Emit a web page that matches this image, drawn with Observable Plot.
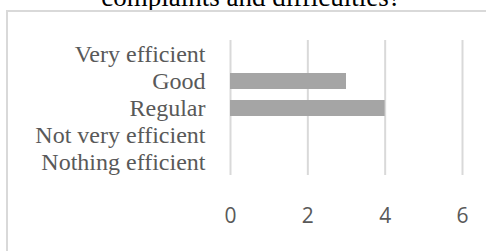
<!DOCTYPE html>
<html>
<head>
<meta charset="utf-8">
<script src="https://cdn.jsdelivr.net/npm/d3@7"></script>
<script src="https://cdn.jsdelivr.net/npm/@observablehq/plot@0.6"></script>
<style>
  html, body { margin: 0; padding: 0; background: #fff; overflow: hidden; }
  #page { position: relative; width: 486px; height: 251px; overflow: hidden; background: #fff; }
  #title { position: absolute; left: 8px; top: -16px; width: 486px; text-align: center;
    font-family: "Liberation Serif", "Times New Roman", serif; font-size: 27px; line-height: 27px; color: #000; white-space: nowrap; }
  #frame { position: absolute; left: 6px; top: 10px; width: 520px; height: 300px; border: 2px solid #d9d9d9; box-sizing: border-box; }
  #chart { position: absolute; left: 0; top: 0; }
</style>
</head>
<body>
<div id="page">
  <div id="title">complaints and difficulties?</div>
  <div id="frame"></div>
  <div id="chart"></div>
</div>
<script>
const categories = ["Very efficient", "Good", "Regular", "Not very efficient", "Nothing efficient"];
const counts = [0, 3, 4, 0, 0];
const xTicks = [0, 2, 4, 6];

const data = categories.map((c, i) => ({category: c, count: counts[i]}));

const chart = Plot.plot({
  width: 486,
  height: 251,
  marginLeft: 230,
  marginRight: 24,
  marginTop: 40,
  marginBottom: 76,
  style: {background: "transparent", overflow: "visible"},
  x: {domain: [0, 6]},
  y: {domain: categories, paddingInner: 0.42, paddingOuter: 0.21},
  marks: [
    Plot.ruleX(xTicks, {stroke: "#d9d9d9", strokeWidth: 2}),
    Plot.barX(data, {x: "count", y: "category", fill: "#a5a5a5"}),
    Plot.axisY({tickSize: 0, tickPadding: 25, fontSize: 24, fontFamily: "Liberation Serif, Times New Roman, serif", fill: "#595959", label: null}),
    Plot.axisX({ticks: xTicks, tickFormat: d3.format("d"), tickSize: 0, tickPadding: 33, fontSize: 21, fontFamily: "Open Sans, sans-serif", fill: "#595959", label: null})
  ]
});
document.getElementById("chart").appendChild(chart);
</script>
</body>
</html>
